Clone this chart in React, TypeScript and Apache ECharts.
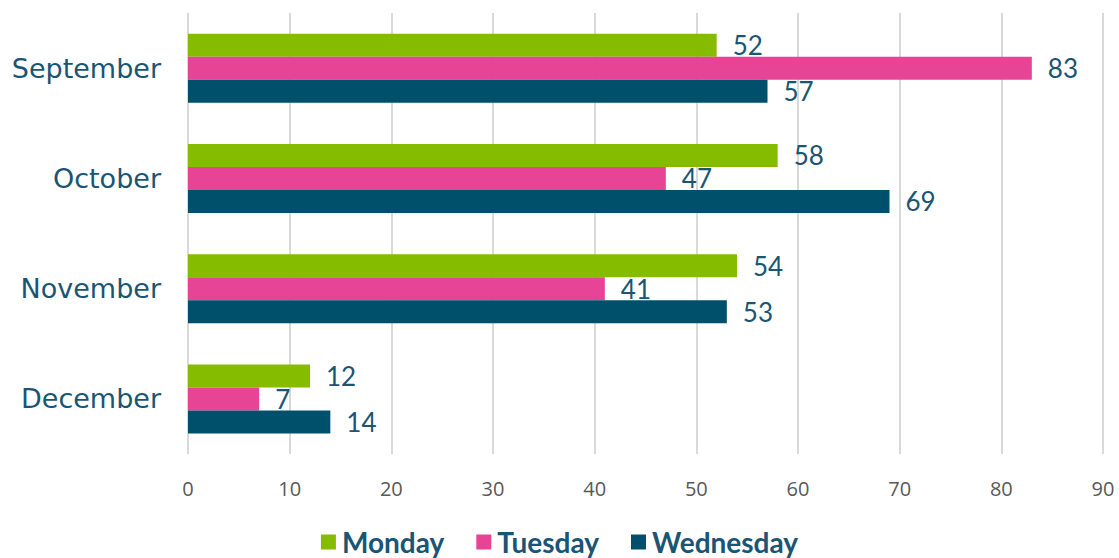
import React, { useEffect, useRef } from "react";
import * as echarts from "echarts";

const categories = ["September", "October", "November", "December"];
const monday = [52, 58, 54, 12];
const tuesday = [83, 47, 41, 7];
const wednesday = [57, 69, 53, 14];
const seriesNames = ["Monday", "Tuesday", "Wednesday"];
const colors = ["#86BC00", "#E84496", "#00506B"];

const TEXT = "#1A5573";
const FONT = "Lato, 'Noto Sans', sans-serif";

export default function App() {
  const ref = useRef<HTMLDivElement>(null);
  useEffect(() => {
    const chart = echarts.init(ref.current!, null, { renderer: "svg" });
    const data = [monday, tuesday, wednesday];
    chart.setOption({
      animation: false,
      grid: { left: 188, right: 16, top: 13, bottom: 104, containLabel: false },
      legend: {
        top: 522,
        left: "center",
        itemWidth: 15,
        itemHeight: 15,
        itemGap: 32,
        icon: "rect",
        textStyle: {
          color: TEXT,
          fontSize: 28,
          lineHeight: 30,
          fontWeight: "bold",
          fontFamily: FONT,
          padding: [0, 0, 0, 1],
        },
        data: seriesNames,
      },
      xAxis: {
        type: "value",
        min: 0,
        max: 90,
        interval: 10,
        axisLine: { show: false },
        axisTick: { show: false },
        splitLine: { lineStyle: { color: "#D9D9D9", width: 2 } },
        axisLabel: { color: "#595959", fontSize: 20, margin: 24, fontFamily: "'Open Sans', sans-serif" },
      },
      yAxis: {
        type: "category",
        data: categories,
        inverse: true,
        axisLine: { show: false },
        axisTick: { show: false },
        axisLabel: { color: TEXT, fontSize: 27, margin: 27, fontFamily: "'DejaVu Sans', sans-serif" },
      },
      series: seriesNames.map((name, i) => ({
        name,
        type: "bar",
        data: data[i],
        barWidth: 23,
        barGap: "0%",
        itemStyle: { color: colors[i] },
        label: {
          show: true,
          position: "right",
          distance: 16,
          color: TEXT,
          fontSize: 26,
          fontFamily: FONT,
        },
      })),
    });
    return () => chart.dispose();
  }, []);
  return <div ref={ref} style={{ width: 1119, height: 558, position: "absolute", left: 0, top: 0 }} />;
}
